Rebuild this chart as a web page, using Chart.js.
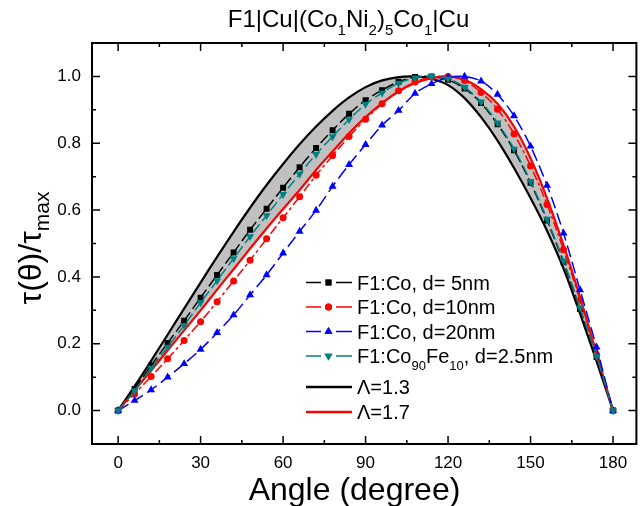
<!DOCTYPE html>
<html>
<head>
<meta charset="utf-8">
<script src="https://cdn.jsdelivr.net/npm/chart.js@4.4.0/dist/chart.umd.min.js"></script>
<style>
html, body { margin: 0; padding: 0; background: #fff; }
#wrap { width: 641px; height: 506px; }
</style>
</head>
<body>
<div id="wrap"><canvas id="grafica" width="641" height="506"></canvas></div>
<script>
// angulo (grados)
const angulos = [0, 6, 12, 18, 24, 30, 36, 42, 48, 54, 60, 66, 72, 78, 84, 90,
  96, 102, 108, 114, 120, 126, 132, 138, 144, 150, 156, 162, 168, 174, 180];

// F1:Co, d= 5nm (cuadrados negros)
const d5nm = [0, 0.065, 0.135, 0.202, 0.269, 0.338, 0.406, 0.473, 0.541, 0.604, 0.667,
  0.728, 0.786, 0.839, 0.888, 0.929, 0.959, 0.984, 0.998, 1.0, 0.99, 0.964, 0.92,
  0.857, 0.779, 0.682, 0.569, 0.444, 0.304, 0.16, 0];

// F1:Co, d=10nm (circulos rojos)
const d10nm = [0, 0.05, 0.102, 0.155, 0.21, 0.266, 0.326, 0.388, 0.45, 0.514, 0.577,
  0.64, 0.704, 0.763, 0.82, 0.872, 0.918, 0.957, 0.983, 0.998, 1.0, 0.988, 0.952,
  0.902, 0.828, 0.732, 0.617, 0.481, 0.331, 0.167, 0];

// F1:Co, d=20nm (triangulos azules)
const d20nm = [0, 0.03, 0.062, 0.1, 0.14, 0.183, 0.233, 0.286, 0.346, 0.406, 0.471,
  0.536, 0.599, 0.671, 0.736, 0.796, 0.854, 0.898, 0.949, 0.978, 0.997, 1.0, 0.986,
  0.946, 0.882, 0.791, 0.674, 0.531, 0.361, 0.19, 0];

// F1:Co90Fe10, d=2.5nm (triangulos invertidos)
const coFe = [0, 0.06, 0.127, 0.19, 0.255, 0.323, 0.389, 0.455, 0.521, 0.584, 0.647,
  0.708, 0.767, 0.82, 0.871, 0.917, 0.951, 0.98, 0.996, 1.0, 0.993, 0.968, 0.924,
  0.861, 0.783, 0.686, 0.573, 0.448, 0.308, 0.162, 0];

// curvas teoricas
const lambda13 = [0, 0.073, 0.149, 0.227, 0.305, 0.383, 0.46, 0.535, 0.607, 0.675, 0.738,
  0.797, 0.85, 0.897, 0.937, 0.968, 0.988, 0.998, 1.0, 0.993, 0.974, 0.935, 0.878,
  0.808, 0.726, 0.636, 0.538, 0.425, 0.29, 0.148, 0];
const lambda17 = [0, 0.06, 0.12, 0.18, 0.24, 0.30, 0.362, 0.423, 0.485, 0.545, 0.603,
  0.66, 0.72, 0.775, 0.83, 0.878, 0.92, 0.955, 0.98, 0.995, 1.0, 0.99, 0.962, 0.918,
  0.85, 0.755, 0.635, 0.495, 0.34, 0.172, 0];

const xTicks = [0, 30, 60, 90, 120, 150, 180];
const yTicks = [0, 0.2, 0.4, 0.6, 0.8, 1.0];

const fuente = "'Liberation Sans', Arial, sans-serif";

function puntos(valores) {
  return angulos.map((a, i) => ({ x: a, y: valores[i] }));
}

// texto con subindices: partes [texto, esSub]
function textoSub(ctx, partes, x, y, tam, tamSub, bajada) {
  let cx = x;
  partes.forEach(p => {
    ctx.font = (p[1] ? tamSub : tam) + 'px ' + fuente;
    ctx.fillText(p[0], cx, p[1] ? y + bajada : y);
    cx += ctx.measureText(p[0]).width;
  });
  return cx - x;
}
function anchoSub(ctx, partes, tam, tamSub) {
  let w = 0;
  partes.forEach(p => {
    ctx.font = (p[1] ? tamSub : tam) + 'px ' + fuente;
    w += ctx.measureText(p[0]).width;
  });
  return w;
}

const tituloPartes = [['F1|Cu|(Co', 0], ['1', 1], ['Ni', 0], ['2', 1], [')', 0], ['5', 1], ['Co', 0], ['1', 1], ['|Cu', 0]];
const ejeYPartes = [['\u03c4(\u03b8)/\u03c4', 0], ['max', 1]];
const ejeXTexto = 'Angle (degree)';

const leyenda = [
  { partes: [['F1:Co, d= 5nm', 0]], color: '#000000', punto: 'rect', rot: 0, r: 4.2 },
  { partes: [['F1:Co, d=10nm', 0]], color: '#ff0000', punto: 'circle', rot: 0, r: 3.5 },
  { partes: [['F1:Co, d=20nm', 0]], color: '#0000ff', punto: 'triangle', rot: 0, r: 4.6 },
  { partes: [['F1:Co', 0], ['90', 1], ['Fe', 0], ['10', 1], [', d=2.5nm', 0]], color: '#008080', punto: 'triangle', rot: 180, r: 4.6 },
  { partes: [['\u039b=1.3', 0]], color: '#000000', punto: null },
  { partes: [['\u039b=1.7', 0]], color: '#ff0000', punto: null }
];
const leyendaY = [282.5, 307, 331.5, 356, 387, 412];

const textos = {
  id: 'textos',
  afterDraw(chart) {
    const { ctx, chartArea: a, scales: { x, y } } = chart;
    ctx.save();
    ctx.fillStyle = '#000';
    ctx.textBaseline = 'alphabetic';
    ctx.textAlign = 'left';

    // titulo
    const wt = anchoSub(ctx, tituloPartes, 24, 15);
    textoSub(ctx, tituloPartes, 348.5 - wt / 2, 27, 24, 15, 8);

    // titulo eje x
    ctx.font = '32px ' + fuente;
    ctx.textAlign = 'center';
    ctx.fillText(ejeXTexto, 354.5, 500);
    ctx.textAlign = 'left';

    // titulo eje y
    ctx.save();
    ctx.translate(41, 248);
    ctx.rotate(-Math.PI / 2);
    const wy = anchoSub(ctx, ejeYPartes, 32, 21);
    textoSub(ctx, ejeYPartes, -wy / 2, 0, 32, 21, 8);
    ctx.restore();

    // leyenda
    leyenda.forEach((e, i) => {
      const ly = leyendaY[i];
      ctx.strokeStyle = e.color;
      ctx.fillStyle = e.color;
      ctx.lineWidth = e.punto ? 1.5 : 2.5;
      ctx.beginPath();
      if (e.punto) {
        ctx.moveTo(306, ly); ctx.lineTo(321, ly);
        ctx.moveTo(336, ly); ctx.lineTo(352, ly);
      } else {
        ctx.moveTo(306, ly); ctx.lineTo(352, ly);
      }
      ctx.stroke();
      if (e.punto) {
        Chart.helpers.drawPoint(ctx, { pointStyle: e.punto, radius: e.r, rotation: e.rot, borderWidth: 0 }, 328.5, ly);
        ctx.fill();
      }
      ctx.fillStyle = '#000';
      textoSub(ctx, e.partes, 357, ly + 7, 20, 13, 7);
    });

    // marco y marcas
    ctx.strokeStyle = '#000';
    ctx.lineWidth = 1.5;
    ctx.beginPath();
    for (let i = 0; i < xTicks.length; i++) {
      const px = x.getPixelForValue(xTicks[i]);
      ctx.moveTo(px, a.bottom); ctx.lineTo(px, a.bottom - 8);
      ctx.moveTo(px, a.top); ctx.lineTo(px, a.top + 8);
      if (i < xTicks.length - 1) {
        const pm = x.getPixelForValue((xTicks[i] + xTicks[i + 1]) / 2);
        ctx.moveTo(pm, a.bottom); ctx.lineTo(pm, a.bottom - 4);
        ctx.moveTo(pm, a.top); ctx.lineTo(pm, a.top + 4);
      }
    }
    for (let i = 0; i < yTicks.length; i++) {
      const py = y.getPixelForValue(yTicks[i]);
      ctx.moveTo(a.left, py); ctx.lineTo(a.left + 8, py);
      ctx.moveTo(a.right, py); ctx.lineTo(a.right - 8, py);
      const pm = y.getPixelForValue(yTicks[i] + 0.1);
      ctx.moveTo(a.left, pm); ctx.lineTo(a.left + 4, pm);
      ctx.moveTo(a.right, pm); ctx.lineTo(a.right - 4, pm);
    }
    ctx.stroke();
    ctx.lineWidth = 2;
    ctx.strokeRect(a.left, a.top, a.right - a.left, a.bottom - a.top);
    ctx.restore();
  }
};

function serie(valores, color, estilo, radio, rot, guion) {
  return {
    data: puntos(valores),
    borderColor: color,
    backgroundColor: color,
    borderWidth: 1.5,
    borderDash: guion,
    pointStyle: estilo,
    pointRadius: radio,
    pointRotation: rot,
    pointBorderWidth: 0,
    tension: 0.3,
    fill: false
  };
}

const grafica = document.getElementById('grafica');
const myChart = new Chart(grafica, {
  type: 'line',
  data: {
    datasets: [
      serie(coFe, '#008080', 'triangle', 4.6, 180, [10, 4]),
      serie(d20nm, '#0000ff', 'triangle', 4.6, 0, [12, 5]),
      serie(d10nm, '#ff0000', 'circle', 3.5, 0, [9, 3, 3, 3]),
      serie(d5nm, '#000000', 'rect', 4.2, 0, [10, 4]),
      {
        data: puntos(lambda17),
        borderColor: '#ff0000',
        backgroundColor: '#c0c0c0',
        borderWidth: 2.2,
        pointRadius: 0,
        tension: 0.3,
        fill: { target: 5, above: '#c0c0c0', below: '#c0c0c0' }
      },
      {
        data: puntos(lambda13),
        borderColor: '#000000',
        borderWidth: 2.2,
        pointRadius: 0,
        tension: 0.3,
        fill: false
      }
    ]
  },
  options: {
    responsive: false,
    animation: false,
    events: [],
    layout: { padding: { top: 43, right: 2, left: 0, bottom: 0 } },
    plugins: {
      legend: { display: false },
      tooltip: { enabled: false },
      filler: { drawTime: 'beforeDatasetsDraw' }
    },
    scales: {
      x: {
        type: 'linear',
        min: -9.5,
        max: 188.5,
        afterBuildTicks: s => { s.ticks = xTicks.map(v => ({ value: v })); },
        afterFit: s => { s.height = 62; },
        grid: { display: false, drawTicks: false },
        border: { display: false },
        ticks: { color: '#000', font: { family: fuente, size: 17 }, padding: 9 }
      },
      y: {
        type: 'linear',
        min: -0.1,
        max: 1.1,
        afterBuildTicks: s => { s.ticks = yTicks.map(v => ({ value: v })); },
        afterFit: s => { s.width = 92; },
        grid: { display: false, drawTicks: false },
        border: { display: false },
        ticks: { color: '#000', font: { family: fuente, size: 17 }, padding: 11, callback: v => v.toFixed(1) }
      }
    }
  },
  plugins: [textos]
});
</script>
</body>
</html>
